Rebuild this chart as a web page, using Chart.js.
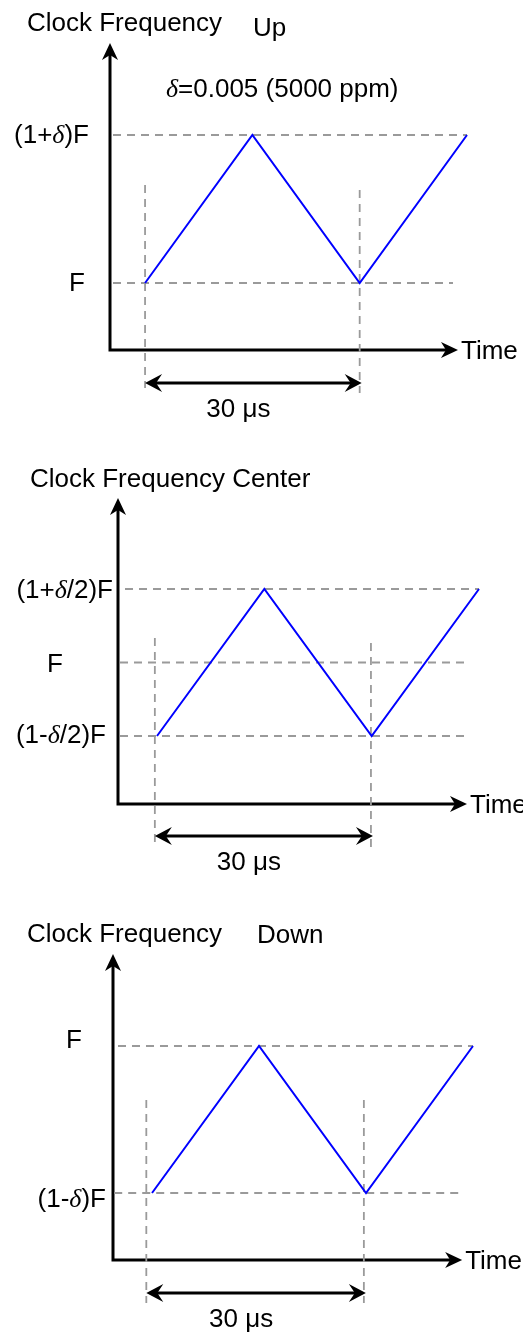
<!DOCTYPE html>
<html>
<head>
<meta charset="utf-8">
<script src="https://cdn.jsdelivr.net/npm/chart.js@4.4.1/dist/chart.umd.min.js"></script>
<style>
  body { margin: 0; background: #fff; }
  canvas { position: absolute; left: 0; }
</style>
</head>
<body>
<canvas id="up" width="523" height="445" style="top:0"></canvas>
<canvas id="center" width="523" height="445" style="top:445px"></canvas>
<canvas id="down" width="523" height="446" style="top:890px"></canvas>
<script>
// time in µs, frequency as offset from F in ppm
const timeUs = [0, 15, 30, 45];
const upPpm = [0, 5000, 0, 5000];
const centerPpm = [-2500, 2500, -2500, 2500];
const downPpm = [-5000, 0, -5000, 0];

const upLevels = [5000, 0];
const upLabels = ['(1+δ)F', 'F'];
const centerLevels = [2500, 0, -2500];
const centerLabels = ['(1+δ/2)F', 'F', '(1-δ/2)F'];
const downLevels = [0, -5000];
const downLabels = ['F', '(1-δ)F'];

// period markers (µs)
const upMarks = [0, 30];
const centerMarks = [-0.3, 29.9];
const downMarks = [-0.8, 29.7];

const modeNames = ['Up', 'Center', 'Down'];
const axisTitle = 'Clock Frequency';
const timeTitle = 'Time';
const periodText = '30 μs';
const deltaNote = 'δ=0.005 (5000 ppm)';

const SANS = '26px "Liberation Sans", Arial, sans-serif';
const GREEK = 'italic 26px "Liberation Serif", "DejaVu Serif", serif';
const BLUE = '#0000ff';
const GUIDE = '#9a9a9a';

function richText(ctx, str, x, y, align) {
  const parts = str.split(/(δ)/).filter(Boolean);
  const fontFor = p => (p === 'δ' ? GREEK : SANS);
  let w = 0;
  parts.forEach(p => { ctx.font = fontFor(p); w += ctx.measureText(p).width; });
  let cx = align === 'right' ? x - w : align === 'center' ? x - w / 2 : x;
  ctx.textAlign = 'left';
  ctx.textBaseline = 'alphabetic';
  ctx.fillStyle = '#000';
  parts.forEach(p => { ctx.font = fontFor(p); ctx.fillText(p, cx, y); cx += ctx.measureText(p).width; });
}

function arrowHead(ctx, tx, ty, dx, dy, len, half, notch) {
  const bx = tx - dx * len, by = ty - dy * len;
  const nx = -dy, ny = dx;
  ctx.beginPath();
  ctx.moveTo(tx, ty);
  ctx.lineTo(bx + nx * half, by + ny * half);
  ctx.lineTo(tx - dx * (len - notch), ty - dy * (len - notch));
  ctx.lineTo(bx - nx * half, by - ny * half);
  ctx.closePath();
  ctx.fill();
}

const panels = [
  {
    id: 'up', freq: upPpm, levels: upLevels, labels: upLabels, marks: upMarks, mode: 0,
    pad: { left: 110, right: 56, top: 135, bottom: 95 },
    xMin: -4.9, yMin: -2264, yMax: 5000,
    hSpan: [[-4.48, 45], [-4.48, 43.04]],
    vSpan: [[3311, -3547], [3142, -3716]],
    labelPos: [[89, -1], [85, -1]],
    dimY: -3378, axisTop: 8108, axisEnd: 43.74,
    titleX: 27, titleY: 31, modeX: 253, modeY: 36, note: [166, 97]
  },
  {
    id: 'center', freq: centerPpm, levels: centerLevels, labels: centerLabels, marks: centerMarks, mode: 1,
    pad: { left: 118, right: 44, top: 144, bottom: 86 },
    xMin: -5.45, yMin: -4813, yMax: 2500,
    hSpan: [[-4.47, 45], [-5.17, 43.04], [-5.17, 43.04]],
    vSpan: [[833, -6105], [663, -6276]],
    labelPos: [[113, 0], [63, 0], [106, -2]],
    dimY: -5901, axisTop: 5595, axisEnd: 43.32,
    titleX: 30, titleY: 42, modeX: null
  },
  {
    id: 'down', freq: downPpm, levels: downLevels, labels: downLabels, marks: downMarks, mode: 2,
    pad: { left: 113, right: 50, top: 156, bottom: 76 },
    xMin: -5.47, yMin: -7279, yMax: 0,
    hSpan: [[-4.77, 45], [-5.3, 43.2]],
    vSpan: [[-1837, -8741], [-1837, -8741]],
    labelPos: [[82, -7], [106, 5]],
    dimY: -8401, axisTop: 3129, axisEnd: 43.48,
    titleX: 27, titleY: 52, modeX: 257, modeY: 53
  }
];

function decor(p) {
  return {
    id: 'decor',
    beforeDatasetsDraw(chart) {
      const ctx = chart.ctx, xs = chart.scales.x, ys = chart.scales.y;
      const ox = xs.getPixelForValue(p.xMin), oy = ys.getPixelForValue(p.yMin);
      const top = ys.getPixelForValue(p.axisTop), end = xs.getPixelForValue(p.axisEnd);
      ctx.save();
      ctx.strokeStyle = '#000';
      ctx.fillStyle = '#000';
      ctx.lineWidth = 3;
      ctx.beginPath();
      ctx.moveTo(ox, top + 12);
      ctx.lineTo(ox, oy);
      ctx.lineTo(end - 12, oy);
      ctx.stroke();
      arrowHead(ctx, ox, top, 0, -1, 17, 8, 5);
      arrowHead(ctx, end, oy, 1, 0, 17, 8, 5);
      ctx.restore();
    },
    afterDraw(chart) {
      const ctx = chart.ctx, xs = chart.scales.x, ys = chart.scales.y;
      ctx.save();
      // level labels
      p.levels.forEach((lv, i) => {
        const [rx, dy] = p.labelPos[i];
        richText(ctx, p.labels[i], rx, ys.getPixelForValue(lv) + dy + 9.3, 'right');
      });
      // period dimension arrow
      const x1 = xs.getPixelForValue(p.marks[0]), x2 = xs.getPixelForValue(p.marks[1]) + 2;
      const dy = ys.getPixelForValue(p.dimY);
      ctx.strokeStyle = '#000';
      ctx.fillStyle = '#000';
      ctx.lineWidth = 3;
      ctx.beginPath();
      ctx.moveTo(x1 + 10, dy);
      ctx.lineTo(x2 - 10, dy);
      ctx.stroke();
      arrowHead(ctx, x1, dy, -1, 0, 17, 9, 6);
      arrowHead(ctx, x2, dy, 1, 0, 17, 9, 6);
      richText(ctx, periodText, (x1 + x2) / 2 - 15, dy + 34, 'center');
      // axis captions
      const oy = ys.getPixelForValue(p.yMin);
      richText(ctx, timeTitle, xs.getPixelForValue(p.axisEnd) + 3, oy + 9.3, 'left');
      if (p.modeX === null) {
        richText(ctx, axisTitle + ' ' + modeNames[p.mode], p.titleX, p.titleY, 'left');
      } else {
        richText(ctx, axisTitle, p.titleX, p.titleY, 'left');
        richText(ctx, modeNames[p.mode], p.modeX, p.modeY, 'left');
      }
      if (p.note) richText(ctx, deltaNote, p.note[0], p.note[1], 'left');
      ctx.restore();
    }
  };
}

panels.forEach(p => {
  const datasets = [{
    data: timeUs.map((t, i) => ({ x: t, y: p.freq[i] })),
    borderColor: BLUE, borderWidth: 2, clip: false
  }];
  p.levels.forEach((lv, i) => datasets.push({
    data: [{ x: p.hSpan[i][0], y: lv }, { x: p.hSpan[i][1], y: lv }],
    borderColor: GUIDE, borderWidth: 1.8, borderDash: [8, 6], clip: false
  }));
  p.marks.forEach((m, i) => datasets.push({
    data: [{ x: m, y: p.vSpan[i][0] }, { x: m, y: p.vSpan[i][1] }],
    borderColor: GUIDE, borderWidth: 1.8, borderDash: [8, 6], clip: false
  }));
  new Chart(document.getElementById(p.id), {
    type: 'line',
    data: { datasets },
    options: {
      responsive: false,
      animation: false,
      events: [],
      layout: { padding: p.pad },
      scales: {
        x: { type: 'linear', min: p.xMin, max: 45, display: false },
        y: { type: 'linear', min: p.yMin, max: p.yMax, display: false }
      },
      elements: { point: { radius: 0 }, line: { tension: 0 } },
      plugins: { legend: { display: false }, tooltip: { enabled: false } }
    },
    plugins: [decor(p)]
  });
});
</script>
</body>
</html>
